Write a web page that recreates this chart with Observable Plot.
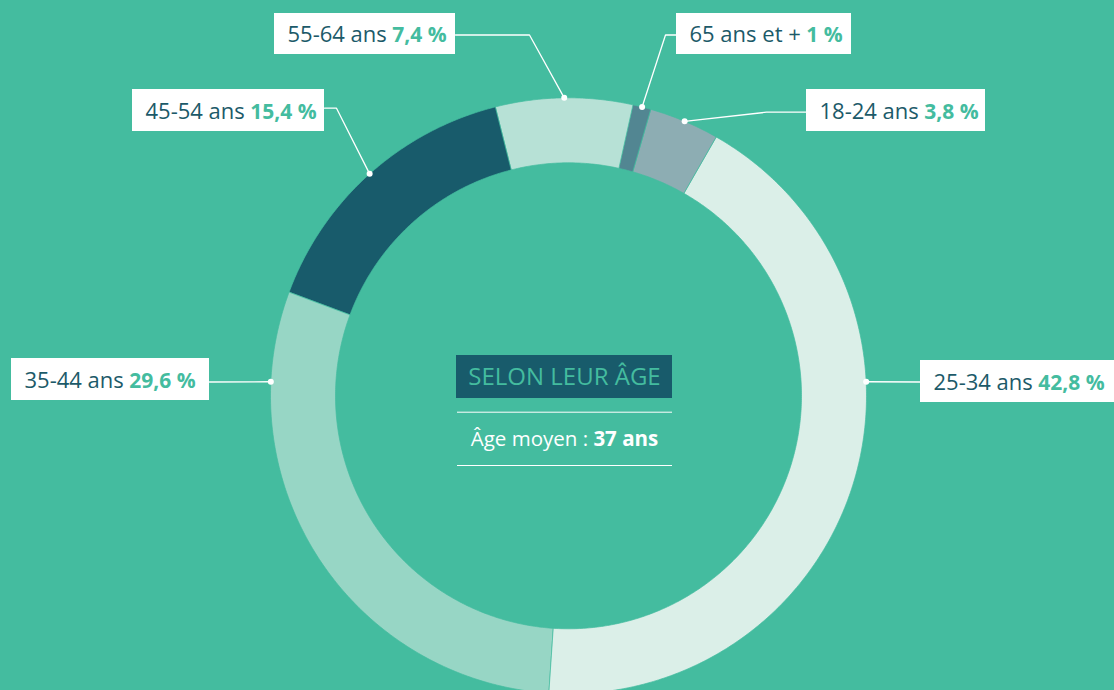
<!DOCTYPE html>
<html>
<head>
<meta charset="utf-8">
<script src="https://cdn.jsdelivr.net/npm/d3@7"></script>
<script src="https://cdn.jsdelivr.net/npm/@observablehq/plot@0.6"></script>
<style>
  html, body { margin: 0; padding: 0; background: #44BC9F; }
  #chart { width: 1114px; height: 690px; overflow: hidden; }
</style>
</head>
<body>
<div id="chart"></div>
<script>
// ---- Data ----
const ageGroups = ["65 ans et +", "18-24 ans", "25-34 ans", "35-44 ans", "45-54 ans", "55-64 ans"];
const shares = [1, 3.8, 42.8, 29.6, 15.4, 7.4];
const segmentColors = ["#528692", "#8DADB3", "#DBEFE8", "#97D6C5", "#185B6B", "#B7E1D6"];
const centerTitle = "SELON LEUR ÂGE";
const averageLabel = "Âge moyen :";
const averageValue = "37 ans";

// ---- Layout (pixels) ----
const W = 1114, H = 690;
const bg = "#44BC9F", dark = "#1C5A69", green = "#44BC9F";
const cx = 568, cy = 395.3, rOuter = 298, rInner = 233, startDeg = 12.5;
const labelLayout = [
  {group: "65 ans et +", box: [676, 13, 851, 54], lineY: 34.5, elbowX: 665, side: "left", anchorDeg: null},
  {group: "18-24 ans", box: [806, 89, 985, 131], lineY: 111.7, elbowX: 766, side: "left", anchorDeg: null},
  {group: "25-34 ans", box: [920, 360, 1114, 402], lineY: 381.5, elbowX: null, side: "left", anchorDeg: 87.3},
  {group: "35-44 ans", box: [11, 358, 209, 400], lineY: 381.5, elbowX: null, side: "right", anchorDeg: 272.7},
  {group: "45-54 ans", box: [132, 89, 324, 131], lineY: 107.7, elbowX: 336, side: "right", anchorDeg: null},
  {group: "55-64 ans", box: [274, 13, 455, 54], lineY: 34.5, elbowX: 529, side: "right", anchorDeg: null}
];
const centerBox = [456, 355, 672, 398];
const centerRules = [411.7, 465];
const centerRuleX = [457, 672];
const centerTextX = 564, centerAvgY = 439;

// ---- Geometry from data ----
const px = (deg, r) => cx + r * Math.sin(deg * Math.PI / 180);
const py = (deg, r) => cy - r * Math.cos(deg * Math.PI / 180);
const fmtPct = v => String(v).replace(".", ",") + " %";

const ring = [];
const mids = {};
let acc = startDeg;
shares.forEach((v, i) => {
  const a0 = acc, a1 = acc + v * 3.6;
  acc = a1;
  mids[ageGroups[i]] = (a0 + a1) / 2;
  const n = Math.max(2, Math.ceil((a1 - a0) / 0.5));
  for (let k = 0; k <= n; k++) {
    const a = a0 + (a1 - a0) * k / n;
    ring.push({group: ageGroups[i], x: px(a, rOuter), y: py(a, rOuter)});
  }
  for (let k = n; k >= 0; k--) {
    const a = a0 + (a1 - a0) * k / n;
    ring.push({group: ageGroups[i], x: px(a, rInner), y: py(a, rInner)});
  }
});

const labels = labelLayout.map(L => {
  const i = ageGroups.indexOf(L.group);
  const ang = L.anchorDeg == null ? mids[L.group] : L.anchorDeg;
  return {...L, pct: fmtPct(shares[i]), dotX: px(ang, rOuter), dotY: py(ang, rOuter)};
});

const leaders = [];
labels.forEach(L => {
  const ex = L.side === "left" ? L.box[0] : L.box[2];
  leaders.push({group: L.group, x: ex, y: L.lineY});
  if (L.elbowX != null) leaders.push({group: L.group, x: L.elbowX, y: L.lineY});
  leaders.push({group: L.group, x: L.dotX, y: L.dotY});
});

const plot = Plot.plot({
  width: W, height: H,
  margin: 0,
  x: {domain: [0, W], range: [0, W], axis: null},
  y: {domain: [0, H], range: [0, H], axis: null},
  color: {domain: ageGroups, range: segmentColors},
  style: {background: bg, fontFamily: "'Open Sans', sans-serif"},
  marks: [
    Plot.line(ring, {x: "x", y: "y", z: "group", fill: "group", stroke: bg, strokeWidth: 0.7, curve: "linear-closed"}),
    Plot.line(leaders, {x: "x", y: "y", z: "group", stroke: "white", strokeWidth: 1.3}),
    Plot.dot(labels, {x: "dotX", y: "dotY", r: 3, fill: "white", stroke: null}),
    Plot.rect(labels, {x1: d => d.box[0], x2: d => d.box[2], y1: d => d.box[1], y2: d => d.box[3], fill: "white"}),
    Plot.text(labels, {x: d => d.box[0] + 13, y: d => (d.box[1] + d.box[3]) / 2 + 1, text: "group", textAnchor: "start", lineAnchor: "middle", fontSize: 22, fontWeight: 500, fill: dark}),
    Plot.rect([centerTitle], {x1: centerBox[0], x2: centerBox[2], y1: centerBox[1], y2: centerBox[3], fill: "#185B6B"}),
    Plot.text([centerTitle], {x: (centerBox[0] + centerBox[2]) / 2, y: (centerBox[1] + centerBox[3]) / 2, text: d => d, fontSize: 24, fill: green, lineAnchor: "middle"}),
    Plot.ruleY(centerRules, {x1: centerRuleX[0], x2: centerRuleX[1], stroke: "white", strokeWidth: 1}),
    Plot.text([averageLabel], {x: centerTextX, y: centerAvgY, text: d => d, fontSize: 20.5, fill: "white", lineAnchor: "middle"})
  ]
});

// rich text: append percentage / bold value as tspans
d3.select(plot).selectAll("text").each(function() {
  const t = d3.select(this);
  const content = this.textContent;
  const L = labels.find(l => l.group === content);
  if (L) {
    t.append("tspan").attr("fill", green).attr("font-weight", 700).attr("font-size", 21).text("\u00A0" + L.pct);
  } else if (content === averageLabel) {
    t.append("tspan").attr("font-weight", 700).text("\u00A0" + averageValue);
  }
});

document.getElementById("chart").appendChild(plot);
</script>
</body>
</html>
